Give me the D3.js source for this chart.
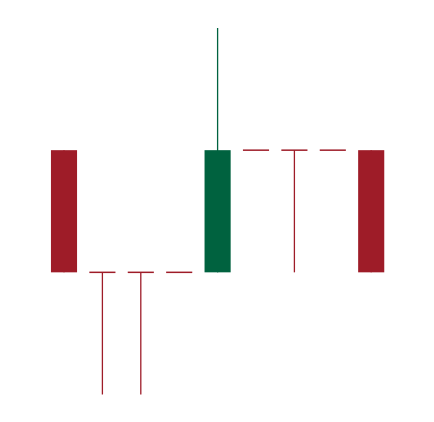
<!DOCTYPE html>
<html><head><meta charset="utf-8">
<script src="https://cdn.jsdelivr.net/npm/d3@7"></script>
<style>html,body{margin:0;padding:0;background:#fff;}</style>
</head><body><svg id="c" width="434" height="422"></svg>
<script>
const days = ["1","2","3","4","5","6","7","8","9"];
const open  = [30, 20, 20, 20, 20, 30, 30, 30, 30];
const close = [20, 20, 20, 20, 30, 30, 30, 30, 20];
const high  = [30, 20, 20, 20, 40, 30, 30, 30, 30];
const low   = [20, 10, 10, 20, 20, 30, 20, 30, 20];

const data = days.map((d,i)=>({d, o:open[i], c:close[i], h:high[i], l:low[i]}));
const svg = d3.select("#c");
const x = d3.scaleBand().domain(days).range([44.8, 390.4]).paddingInner(0.32).paddingOuter(0.16);
const y = d3.scaleLinear().domain([10, 40]).range([394.5, 28]);
const RED = "#9e1c28", GREEN = "#00623f";
const col = d => d.c > d.o ? GREEN : RED;

const g = svg.append("g");
g.selectAll("line.wick").data(data).join("line")
  .attr("class","wick")
  .attr("x1", d => x(d.d) + x.bandwidth()/2)
  .attr("x2", d => x(d.d) + x.bandwidth()/2)
  .attr("y1", d => y(d.h)).attr("y2", d => y(d.l))
  .attr("stroke", col).attr("stroke-width", 1.3);
g.selectAll("rect.body").data(data.filter(d => d.o !== d.c)).join("rect")
  .attr("class","body")
  .attr("x", d => x(d.d)).attr("width", x.bandwidth())
  .attr("y", d => y(Math.max(d.o,d.c)))
  .attr("height", d => y(Math.min(d.o,d.c)) - y(Math.max(d.o,d.c)))
  .attr("fill", col);
g.selectAll("line.doji").data(data.filter(d => d.o === d.c)).join("line")
  .attr("class","doji")
  .attr("x1", d => x(d.d)).attr("x2", d => x(d.d) + x.bandwidth())
  .attr("y1", d => y(d.o)).attr("y2", d => y(d.o))
  .attr("stroke", col).attr("stroke-width", 1.5);
</script></body></html>
